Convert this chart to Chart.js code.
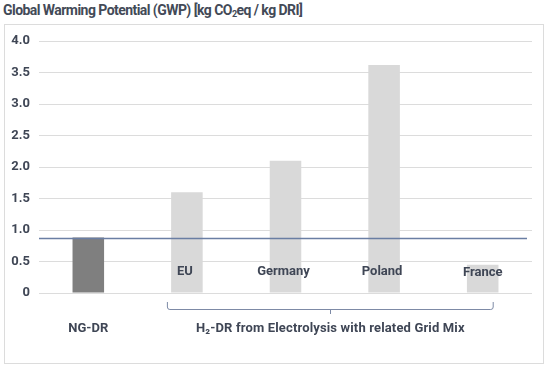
<!DOCTYPE html>
<html>
<head>
<meta charset="utf-8">
<script src="https://cdn.jsdelivr.net/npm/chart.js@4/dist/chart.umd.min.js"></script>
<style>
  html, body { margin: 0; padding: 0; background: #fff; }
  body { width: 550px; height: 368px; position: relative; overflow: hidden; font-family: Roboto, sans-serif; }
  #title { position: absolute; left: 3px; top: 2px; font-size: 14px; font-weight: 700; color: #434a57; white-space: nowrap; letter-spacing: -0.55px; }
  #title sub { font-size: 9px; vertical-align: -2px; }
  #box { position: absolute; left: 4px; top: 24px; width: 538px; height: 338px; border: 1px solid #dcdcdc; }
  #wrap { position: absolute; left: 0; top: 0; width: 550px; height: 368px; }
</style>
</head>
<body>
<div id="title">Global Warming Potential (GWP) [kg CO<sub>2</sub>eq / kg DRI]</div>
<div id="box"></div>
<div id="wrap"><canvas id="chart"></canvas></div>
<script>
const categories = ['NG-DR', 'EU', 'Germany', 'Poland', 'France'];
const gwpValues  = [0.88, 1.60, 2.10, 3.62, 0.45];
const barColors  = ['#7f7f7f', '#d9d9d9', '#d9d9d9', '#d9d9d9', '#d9d9d9'];
const refLine    = 0.88;   // NG-DR level
const groupLabel = 'H₂-DR from Electrolysis with related Grid Mix';

const TEXT = '#3f4655';
const FONT = 'Roboto, sans-serif';

// reference line + category labels + bracket under the H2 group
const overlay = {
  id: 'overlay',
  afterDatasetsDraw(chart) {
    const { ctx, chartArea: a, scales: { x, y } } = chart;
    ctx.save();

    const yl = Math.round(y.getPixelForValue(refLine)) + 0.5;
    ctx.strokeStyle = '#6a7ea3';
    ctx.lineWidth = 1.3;
    ctx.beginPath();
    ctx.moveTo(a.left, yl);
    ctx.lineTo(a.right - 5, yl);
    ctx.stroke();

    ctx.fillStyle = TEXT;
    ctx.font = `bold 13px ${FONT}`;
    ctx.letterSpacing = '0px';
    ctx.textAlign = 'center';
    ctx.textBaseline = 'middle';
    categories.forEach((c, i) => {
      const cx = x.getPixelForValue(i);
      if (i === 0) ctx.fillText(c, cx, a.bottom + 36);
      else ctx.fillText(c, cx + (i === 4 ? 0 : -2), a.bottom - 21 + (i === 4 ? 1 : 0));
    });

    const x0 = x.getPixelForValue(1) - 20;
    const x1 = x.getPixelForValue(4) + 11;
    const xm = (x0 + x1) / 2;
    const top = a.bottom + 9, mid = a.bottom + 16;
    ctx.strokeStyle = '#7d8aa6';
    ctx.lineWidth = 1;
    ctx.beginPath();
    ctx.moveTo(x0 + 0.5, top);
    ctx.lineTo(x0 + 0.5, mid - 2);
    ctx.quadraticCurveTo(x0 + 0.5, mid + 0.5, x0 + 3, mid + 0.5);
    ctx.lineTo(x1 - 3, mid + 0.5);
    ctx.quadraticCurveTo(x1 - 0.5, mid + 0.5, x1 - 0.5, mid - 2);
    ctx.lineTo(x1 - 0.5, top);
    ctx.moveTo(Math.round(xm) + 0.5, mid);
    ctx.lineTo(Math.round(xm) + 0.5, mid + 5);
    ctx.stroke();

    ctx.letterSpacing = '0.15px';
    ctx.fillText(groupLabel, xm, a.bottom + 36);
    ctx.restore();
  }
};

new Chart(document.getElementById('chart'), {
  type: 'bar',
  data: {
    labels: categories,
    datasets: [{
      data: gwpValues,
      backgroundColor: barColors,
      borderWidth: 0,
      categoryPercentage: 0.8,
      barPercentage: 0.4
    }]
  },
  options: {
    responsive: true,
    maintainAspectRatio: false,
    animation: false,
    layout: { padding: { left: 0, right: 18, top: 41, bottom: 75 } },
    plugins: { legend: { display: false }, tooltip: { enabled: false }, title: { display: false } },
    scales: {
      x: { display: false },
      y: {
        min: 0,
        max: 4,
        afterFit: s => { s.width = 39; },
        border: { display: false },
        grid: { color: '#dcdcdc', lineWidth: 1, drawTicks: false },
        ticks: {
          stepSize: 0.5,
          padding: 9,
          color: TEXT,
          font: { family: FONT, size: 13, weight: 'bold' },
          callback: v => v === 0 ? '0' : v.toFixed(1)
        }
      }
    }
  },
  plugins: [overlay]
});
</script>
</body>
</html>
